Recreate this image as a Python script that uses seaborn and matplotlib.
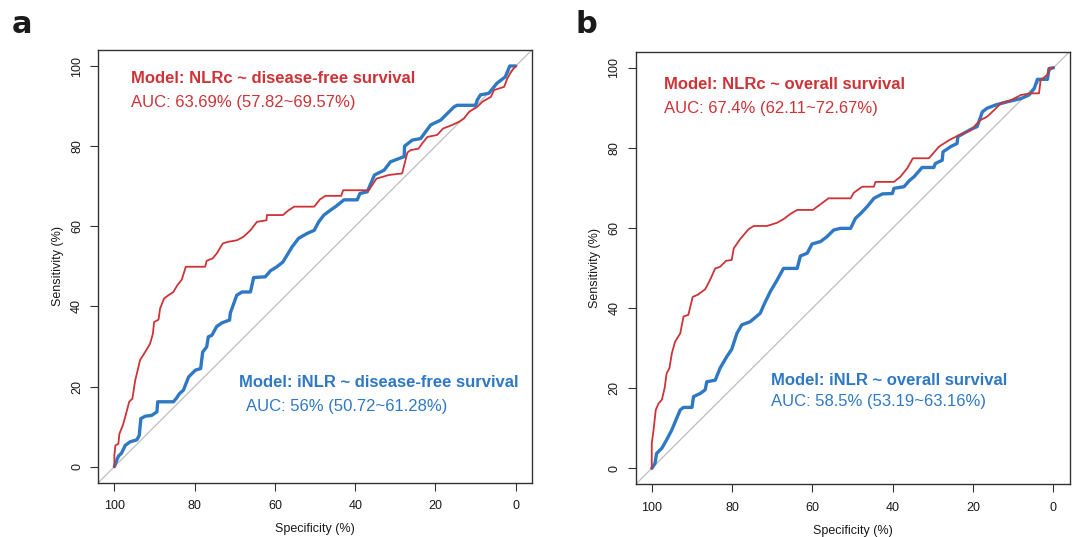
import matplotlib
matplotlib.use("Agg")
import matplotlib.pyplot as plt
import seaborn as sns
import pandas as pd

# ---------------- data ----------------
tick_vals = [100, 80, 60, 40, 20, 0]

a_red_spec = [100, 100, 99.75, 99, 98.75, 97.9, 97.3, 96.3, 95.5, 94.8, 94.4, 93.6, 92.6, 91.8, 91.1,
              90.4, 90.1, 89, 88.6, 87.6, 86.5, 85.3, 84.3, 83.2, 82.2, 77.4, 77, 75.5, 74.5, 73,
              71.8, 69.5, 67.8, 66.1, 64.5, 62.1, 62, 58, 56.6, 55.2, 50.2, 48.8, 47.4, 43.5, 43,
              36.6, 34.7, 31.6, 28.3, 27, 26.2, 24.2, 23.3, 22, 19.6, 18.1, 15.8, 14.1, 12.9, 11.6,
              9.6, 8.3, 6.2, 5.4, 2.9, 2.1, 1.1, 0]
a_red_sens = [0, 2.8, 5.3, 5.7, 8.2, 10.3, 12.4, 16.2, 17, 21.6, 23.2, 26.6, 28.2, 29.5, 30.7,
              33.2, 36.1, 36.7, 39.5, 42, 42.8, 43.6, 45.3, 46.7, 49.9, 49.9, 51.4, 52, 53.2, 55.7,
              56.1, 56.5, 57.4, 59, 61.1, 61.5, 62.8, 62.8, 64, 64.9, 64.9, 66.7, 67.6, 67.6, 69,
              69, 71.9, 72.8, 73.2, 78.4, 79, 79.4, 80.7, 82.3, 82.8, 84.4, 85.3, 86.1, 86.9, 88.6,
              89.8, 91.1, 92.3, 94, 94.8, 96.9, 98.6, 100]

a_blue_spec = [100, 99.4, 99, 98.2, 97.3, 96.1, 94.4, 93.8, 93.4, 92.3, 90.7, 89.4, 89.2, 85.3, 84.6,
               83.8, 82.8, 81.5, 79.8, 78.5, 78, 77, 76.6, 75.7, 74.5, 73.2, 71.3, 71.1, 69.5, 68.2,
               66.1, 65.3, 62.4, 61.1, 59.5, 58, 55.7, 54.1, 52, 50.2, 49.1, 47.8, 46.2, 44.9, 42.8,
               39.5, 38.8, 37, 35.2, 32.8, 31.2, 27.8, 27.7, 25.8, 23.7, 21.2, 18.7, 15.4, 14.6, 10,
               9.6, 8.8, 6.7, 4.7, 2.6, 1.5, 0]
a_blue_sens = [0, 1.6, 2.6, 3.4, 5.3, 6.2, 6.7, 7.8, 12, 12.6, 12.8, 13.7, 16.2, 16.2, 17,
               18.2, 19.1, 22.4, 24.1, 24.5, 28.6, 29.9, 32.4, 32.8, 35, 35.9, 36.6, 38.4, 42.8, 43.6,
               43.6, 47.2, 47.4, 48.9, 49.9, 51.1, 54.9, 57, 58.2, 59, 61.1, 62.8, 64, 64.9, 66.6,
               66.6, 68.2, 68.6, 72.8, 74, 76.1, 77.4, 80, 81.5, 81.9, 85.3, 86.5, 89.8, 90.2, 90.2,
               91.5, 92.8, 93.2, 95.7, 97.3, 100, 100]

b_red_spec = [100, 100, 99.6, 99, 98.3, 97.5, 96.8, 96.3, 95.6, 95, 94.2, 92.9, 92.1, 90.9, 89.8,
              88.6, 86.7, 85.5, 84.2, 83, 81.5, 80.1, 79.6, 78, 75.9, 74.6, 71.3, 68.8, 67.2, 65.5,
              63.8, 59.9, 56, 50.5, 49.7, 47.6, 44.7, 44.3, 39.7, 38.1, 36.4, 35, 31, 28.5, 26,
              23.5, 20.6, 19, 18.2, 16.5, 14.8, 13.1, 10.6, 8.1, 5.7, 3.6, 3.2, 1.5, 1.1, 0]
b_red_sens = [0, 6.2, 9.2, 14.6, 16.2, 17.1, 20, 23.7, 25, 28.7, 31.6, 33.7, 37.9, 38.3, 42.8,
              43.3, 44.7, 47, 49.9, 50.3, 51.8, 52, 54.9, 57.2, 59.7, 60.5, 60.5, 61.3, 62.2, 63.5,
              64.5, 64.5, 67.4, 67.4, 68.8, 70.3, 70.3, 71.5, 71.5, 72.8, 74.9, 77.4, 77.4, 80.3, 81.9,
              83.2, 84.4, 86.1, 86.9, 87.8, 89.4, 91.1, 91.9, 93.2, 93.6, 93.6, 96.9, 98.2, 99.8, 100]

b_blue_spec = [100, 99.2, 98.8, 97.5, 96.3, 95, 93.8, 92.9, 92.1, 90, 89.6, 87.9, 86.7, 86.3, 84.2,
               83, 81.3, 80.1, 78.8, 77.6, 75.5, 73, 72, 70.5, 68.8, 67.2, 63.8, 63, 61.3, 60.1,
               58, 56.4, 54.7, 53, 50.5, 49.3, 48, 46.4, 44.7, 42.6, 40.1, 39.7, 37.2, 35.9, 34.7,
               32.7, 29.8, 29.4, 27.7, 27.5, 25.6, 24, 23.8, 20.6, 19, 17.7, 16.5, 14.4, 11.5, 8.1,
               6.1, 4.8, 4, 1.5, 1.1, 0]
b_blue_sens = [0, 1.2, 3.7, 5, 7.1, 9.6, 12.5, 14.6, 15.2, 15.2, 17.9, 18.7, 19.6, 21.6, 22,
               25, 27.9, 29.7, 33.7, 35.8, 36.6, 38.7, 41, 44.1, 47, 49.9, 49.9, 53, 53.7, 56,
               56.6, 57.8, 59.5, 59.9, 59.9, 62.4, 63.6, 65.3, 67.4, 68.5, 68.6, 69.9, 70.3, 71.8, 72.8,
               75.1, 75.1, 76.1, 76.9, 79, 80.3, 81.1, 82.8, 84.6, 85.3, 89, 89.9, 90.7, 91.5, 92.3,
               93.2, 94.8, 97.1, 97.1, 99.8, 100]

a_red_title = "Model: NLRc ~ disease-free survival"
a_red_auc = "AUC: 63.69% (57.82~69.57%)"
a_blue_title = "Model: iNLR ~ disease-free survival"
a_blue_auc = "AUC: 56% (50.72~61.28%)"
b_red_title = "Model: NLRc ~ overall survival"
b_red_auc = "AUC: 67.4% (62.11~72.67%)"
b_blue_title = "Model: iNLR ~ overall survival"
b_blue_auc = "AUC: 58.5% (53.19~63.16%)"

RED = "#CD3337"
BLUE = "#2E78C4"

sns.set_theme(style="white")
plt.rcParams["font.family"] = ["Liberation Sans", "DejaVu Sans"]

fig = plt.figure(figsize=(10.72, 5.37), dpi=100)
ax_a = fig.add_axes([0.0917, 0.1011, 0.4044, 0.8058])
ax_b = fig.add_axes([0.5930, 0.0981, 0.4047, 0.8056])

panels = [
    (ax_a, a_red_spec, a_red_sens, a_blue_spec, a_blue_sens,
     (a_red_title, a_red_auc, 95.8, 96.8, 95.8, 90.9),
     (a_blue_title, a_blue_auc, 68.9, 21.0, 67.3, 15.1), "a", 0.011),
    (ax_b, b_red_spec, b_red_sens, b_blue_spec, b_blue_sens,
     (b_red_title, b_red_auc, 96.9, 95.8, 96.9, 89.8),
     (b_blue_title, b_blue_auc, 70.2, 21.8, 70.2, 16.6), "b", 0.537),
]

for ax, rs, rv, bs, bv, rtxt, btxt, lab, lx in panels:
    ax.axline((100, 0), (0, 100), color="#BEBEBE", lw=0.9, zorder=1)
    sns.lineplot(x=bs, y=bv, ax=ax, sort=False, estimator=None, color=BLUE, lw=2.4, zorder=3)
    sns.lineplot(x=rs, y=rv, ax=ax, sort=False, estimator=None, color=RED, lw=1.3, zorder=4)
    ax.set_xlim(104, -4)
    ax.set_ylim(-4, 104)
    ax.set_xticks(tick_vals)
    ax.set_yticks(tick_vals)
    ax.set_xticklabels([str(v) for v in tick_vals])
    ax.set_yticklabels([str(v) for v in tick_vals], rotation=90, va="center")
    ax.tick_params(axis="both", which="major", direction="out", length=6, width=0.8,
                   color="#333333", labelsize=9, labelcolor="#1A1A1A", bottom=True, left=True)
    ax.tick_params(axis="x", pad=6.5)
    ax.tick_params(axis="y", pad=5)
    for sp in ax.spines.values():
        sp.set_visible(True)
        sp.set_color("#333333")
        sp.set_linewidth(1.0)
    ax.set_xlabel("Specificity (%)", fontsize=9, color="#1A1A1A", labelpad=8)
    ax.set_ylabel("Sensitivity (%)", fontsize=9, color="#1A1A1A", labelpad=5)
    ax.grid(False)

    t1, t2, x1, y1, x2, y2 = rtxt
    ax.text(x1, y1, t1, color=RED, fontsize=12, fontweight="bold", ha="left", va="center")
    ax.text(x2, y2, t2, color=RED, fontsize=12, ha="left", va="center")
    t1, t2, x1, y1, x2, y2 = btxt
    ax.text(x1, y1, t1, color=BLUE, fontsize=12, fontweight="bold", ha="left", va="center")
    ax.text(x2, y2, t2, color=BLUE, fontsize=12, ha="left", va="center")

    fig.text(lx, 0.938, lab, fontsize=22, fontweight="bold", color="#1A1A1A",
             family=["DejaVu Sans"], ha="left", va="baseline")

fig.savefig("out.png", dpi=100)
